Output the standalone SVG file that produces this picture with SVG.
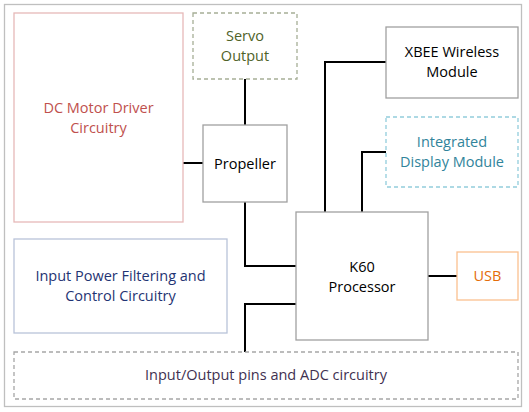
<svg xmlns="http://www.w3.org/2000/svg" width="529" height="412" viewBox="0 0 529 412">
<style>
  text { font-family: "Open Sans", "Liberation Sans", sans-serif; font-size: 14.5px; text-anchor: middle; }
  .box { fill: #ffffff; stroke-width: 1.3; }
  .dash { stroke-dasharray: 4 3; }
  .wire { fill: none; stroke: #000000; stroke-width: 2; }
</style>
<rect x="0" y="0" width="529" height="412" fill="#ffffff"/>
<rect id="frame" x="4.5" y="4.5" width="517" height="402" fill="#ffffff" stroke="#bfbfbf" stroke-width="1.3"/>
<g id="connectors">
  <path class="wire" d="M245 79 V125"/>
  <path class="wire" d="M183 163 H203"/>
  <path class="wire" d="M245 202 V266 H296"/>
  <path class="wire" d="M245 352 V304 H296"/>
  <path class="wire" d="M325 212 V62 H386"/>
  <path class="wire" d="M362 212 V152 H386"/>
  <path class="wire" d="M428 276 H457"/>
</g>
<g id="dc-motor">
  <rect class="box" x="14" y="13" width="169" height="209" stroke="#e6b9b8"/>
  <text fill="#c0504d"><tspan x="98.5" y="113">DC Motor Driver</tspan><tspan x="98.5" y="133">Circuitry</tspan></text>
</g>
<g id="servo">
  <rect class="box dash" x="193" y="13" width="104" height="66" stroke="#a6ae96"/>
  <text fill="#4f6228"><tspan x="245" y="41">Servo</tspan><tspan x="245" y="61">Output</tspan></text>
</g>
<g id="propeller">
  <rect class="box" x="203" y="125" width="84" height="77" stroke="#a0a0a0"/>
  <text fill="#000000" x="245" y="168.5">Propeller</text>
</g>
<g id="xbee">
  <rect class="box" x="386" y="27" width="132" height="71" stroke="#a0a0a0"/>
  <text fill="#000000"><tspan x="452" y="57">XBEE Wireless</tspan><tspan x="452" y="77">Module</tspan></text>
</g>
<g id="display">
  <rect class="box dash" x="386" y="117" width="132" height="70" stroke="#92cddc"/>
  <text fill="#31849b"><tspan x="452" y="147">Integrated</tspan><tspan x="452" y="167">Display Module</tspan></text>
</g>
<g id="k60">
  <rect class="box" x="296" y="212" width="132" height="128" stroke="#a0a0a0"/>
  <text fill="#000000"><tspan x="362" y="272">K60</tspan><tspan x="362" y="292">Processor</tspan></text>
</g>
<g id="usb">
  <rect class="box" x="457" y="252" width="61" height="48" stroke="#fac090"/>
  <text fill="#e46c0a" x="487.5" y="281">USB</text>
</g>
<g id="input-power">
  <rect class="box" x="14" y="239" width="213" height="94" stroke="#b9c3d9"/>
  <text fill="#1f3473"><tspan x="120.5" y="281">Input Power Filtering and</tspan><tspan x="120.5" y="301">Control Circuitry</tspan></text>
</g>
<g id="io">
  <rect class="box dash" x="14" y="352" width="504" height="47" stroke="#a6a6a6"/>
  <text fill="#3f3151" x="266" y="380">Input/Output pins and ADC circuitry</text>
</g>
</svg>
